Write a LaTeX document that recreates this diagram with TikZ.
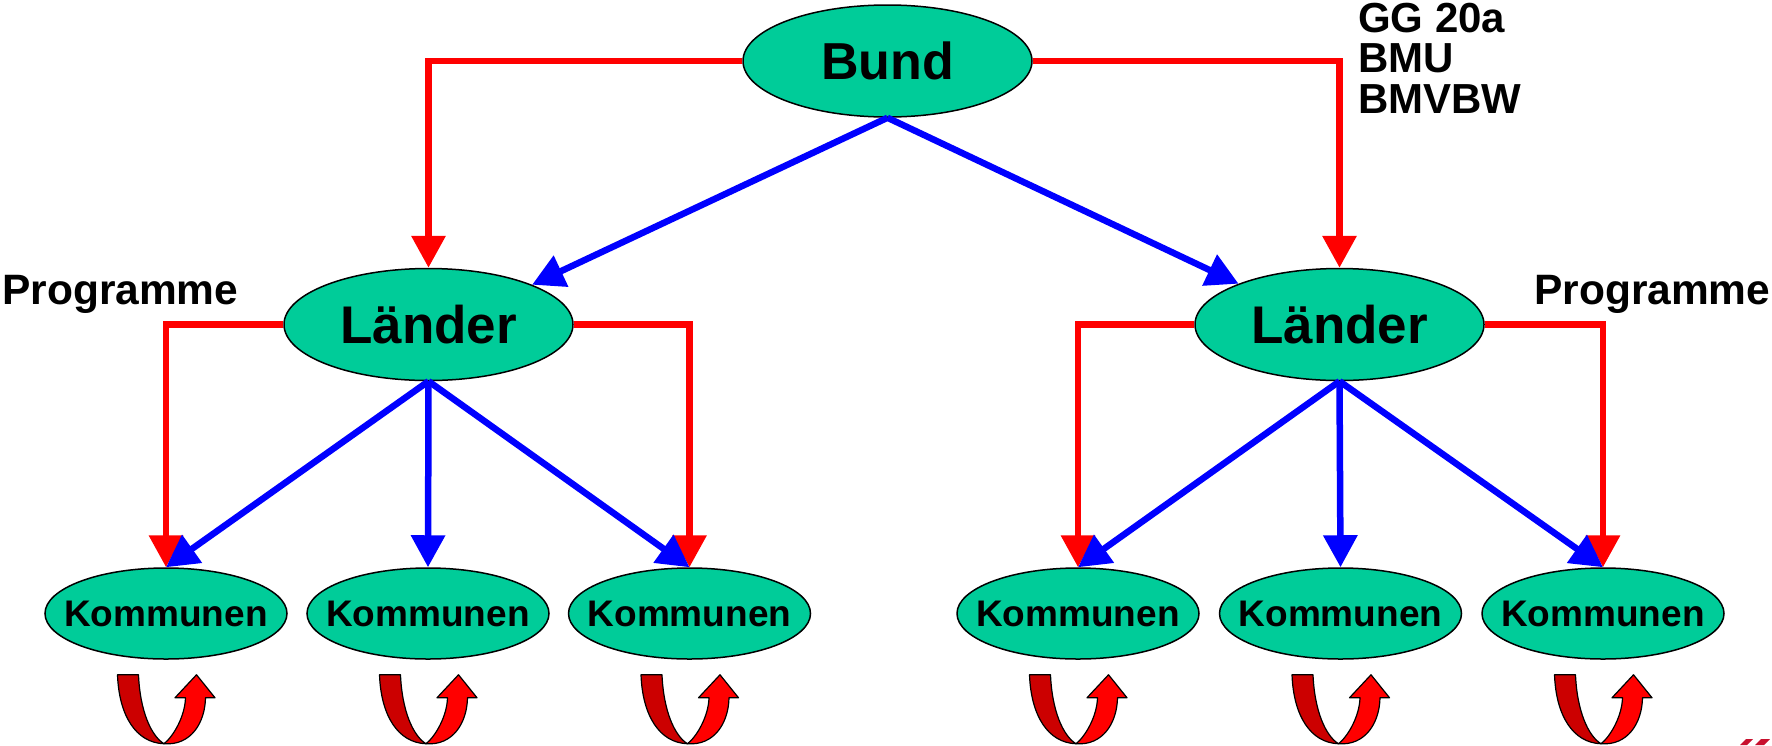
\documentclass[tikz,border=0pt]{standalone}
\usepackage{fontspec}
\setmainfont{Liberation Sans}
\usetikzlibrary{shapes.geometric,arrows.meta}
\definecolor{ellfill}{HTML}{00CC99}
\definecolor{darkred}{HTML}{CC0000}
\definecolor{logored}{HTML}{C8102E}
\begin{document}
\begin{tikzpicture}[x=1pt,y=-1pt,
  ell/.style={ellipse,draw=black,line width=1.5pt,fill=ellfill,inner sep=0pt},
  big/.style={ell,minimum width=289pt,minimum height=112pt,font=\bfseries\fontsize{53}{60}\selectfont},
  small/.style={ell,minimum width=242pt,minimum height=91pt,font=\bfseries\fontsize{37}{42}\selectfont},
  redline/.style={draw=red,line width=6.5pt,-{Triangle[length=32pt,width=33pt]}},
  blueline/.style={draw=blue,line width=6.5pt,-{Triangle[length=32pt,width=33pt]}},
  lbl/.style={font=\bfseries\fontsize{42.5}{42}\selectfont,inner sep=0pt,anchor=base west},
  glbl/.style={font=\bfseries\fontsize{42}{41}\selectfont,inner sep=0pt,anchor=base west},
  uturn/.style={draw=black,line width=1.2pt,line join=round}
]
\useasboundingbox (0,0) rectangle (1772,745);

% nodes
\node[big,font=\bfseries\fontsize{52}{60}\selectfont] (B) at (887.5,61) {\makebox[0pt]{Bund}};
\node[big] (L1) at (428.5,324.5) {\makebox[0pt]{Länder}};
\node[big] (L2) at (1339.5,324.5) {\makebox[0pt]{Länder}};
\node[small] (K1) at (166,613.5) {\makebox[0pt]{Kommunen}};
\node[small] (K2) at (428,613.5) {\makebox[0pt]{Kommunen}};
\node[small] (K3) at (689.5,613.5) {\makebox[0pt]{Kommunen}};
\node[small] (K4) at (1078,613.5) {\makebox[0pt]{Kommunen}};
\node[small] (K5) at (1340.5,613.5) {\makebox[0pt]{Kommunen}};
\node[small] (K6) at (1603,613.5) {\makebox[0pt]{Kommunen}};

% labels
\node[lbl] (P1) at (2,304) {Programme};
\node[lbl] (P2) at (1534,304) {Programme};
\node[glbl] (G1) at (1358,32) {GG 20a};
\node[glbl] (G2) at (1358,72) {BMU};
\node[glbl] (G3) at (1358,113) {BMVBW};

% red connectors
\draw[redline] (B.west) -| (L1.north);
\draw[redline] (B.east) -| (L2.north);
\draw[redline] (L1.west) -| (K1.north);
\draw[redline] (L1.east) -| (K3.north);
\draw[redline] (L2.west) -| (K4.north);
\draw[redline] (L2.east) -| (K6.north);

% blue connectors
\draw[blueline] (B.south) -- (L1.21);
\draw[blueline] (B.south) -- (L2.158);
\draw[blueline] (L1.south) -- (K1.north);
\draw[blueline] (L1.south) -- (K2.north);
\draw[blueline] (L1.south) -- (K3.north);
\draw[blueline] (L2.south) -- (K4.north);
\draw[blueline] (L2.south) -- (K5.north);
\draw[blueline] (L2.south) -- (K6.north);

% u-turn arrows
\foreach \k in {K1,K2,K3,K4,K5,K6}{
  \begin{scope}[shift={(\k.south)}]
    \filldraw[uturn,fill=darkred] (-48.5,15) -- (-27.5,15)
      .. controls (-26,51) and (-15,76) .. (-2,84)
      .. controls (-30,83) and (-47,56) .. (-48.5,15) -- cycle;
    \filldraw[uturn,fill=red] (-2,84)
      .. controls (8,76) and (19,56) .. (19.5,38)
      -- (9,38) -- (30.5,15) -- (49,38) -- (39.5,38)
      .. controls (39,63) and (25,86) .. (-2,84) -- cycle;
  \end{scope}
}

% logo fragment
\fill[logored] (1740,745) -- (1746,739) -- (1753,739) -- (1747,745) -- cycle;
\fill[logored] (1755,745) -- (1761,739) -- (1770,739) -- (1764,745) -- cycle;
\end{tikzpicture}
\end{document}
